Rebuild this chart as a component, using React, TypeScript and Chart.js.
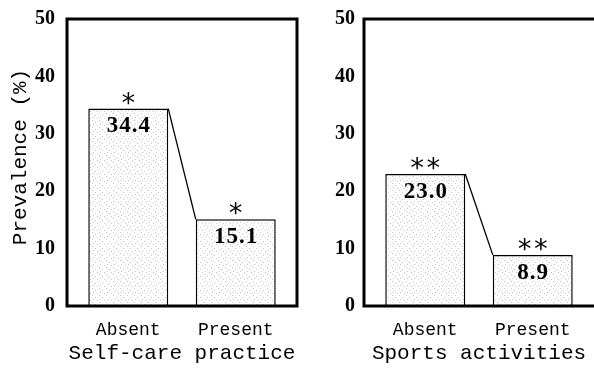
import { useEffect, useRef } from "react";
import { Chart, registerables } from "chart.js";

Chart.register(...registerables);

const categories = ["Absent", "Present"];
const categoryPositions = [0, 1];
const selfCareValues = [34.4, 15.1];
const sportsValues = [23.0, 8.9];
const selfCareMarks = ["*", "*"];
const sportsMarks = ["**", "**"];
const selfCareTitle = "Self-care practice";
const sportsTitle = "Sports activities";
const yAxisTitle = "Prevalence (%)";
const yTickValues = [0, 10, 20, 30, 40, 50];

function makePattern(ctx: CanvasRenderingContext2D) {
  const c = document.createElement("canvas");
  c.width = 7;
  c.height = 7;
  const g = c.getContext("2d")!;
  g.fillStyle = "#ffffff";
  g.fillRect(0, 0, 7, 7);
  g.fillStyle = "rgba(110,110,110,0.4)";
  const dots = [
    [1, 1],
    [4, 3],
    [2, 5],
    [6, 6],
  ];
  dots.forEach(([x, y]) => g.fillRect(x, y, 1, 1));
  return ctx.createPattern(c, "repeat")!;
}

function annotatePlugin(marks: string[]) {
  return {
    id: "annotate",
    afterDatasetsDraw(chart: any) {
      const ctx = chart.ctx as any;
      const els = chart.getDatasetMeta(0).data;
      const data = chart.data.datasets[0].data;
      ctx.save();
      ctx.strokeStyle = "#000";
      ctx.lineWidth = 1.3;
      for (let i = 0; i < els.length - 1; i++) {
        const a = els[i].getProps(["x", "y", "width"], true);
        const b = els[i + 1].getProps(["x", "y", "width"], true);
        ctx.beginPath();
        ctx.moveTo(a.x + a.width / 2, a.y);
        ctx.lineTo(b.x - b.width / 2, b.y);
        ctx.stroke();
      }
      ctx.fillStyle = "#000";
      ctx.textAlign = "center";
      ctx.textBaseline = "middle";
      els.forEach((el: any, i: number) => {
        const { x, y } = el.getProps(["x", "y"], true);
        ctx.font = 'bold 23px "Liberation Serif"';
        ctx.letterSpacing = "1px";
        ctx.fillText(Number(data[i].y).toFixed(1), x + 0.5, y + 18);
        ctx.letterSpacing = "0px";
        ctx.font = '27px "DejaVu Sans Mono"';
        ctx.fillText(marks[i], x, y - 4);
      });
      ctx.restore();
    },
  };
}

function framePlugin(drawRight: boolean, yTitle: string | null) {
  return {
    id: "frame",
    afterDraw(chart: any) {
      const { ctx, chartArea } = chart;
      const { left, right, top, bottom } = chartArea;
      ctx.save();
      ctx.strokeStyle = "#000";
      ctx.lineWidth = 3;
      ctx.beginPath();
      ctx.moveTo(left, top - 1.5);
      ctx.lineTo(left, bottom + 1.5);
      ctx.moveTo(left - 1.5, bottom);
      ctx.lineTo(right + 1.5, bottom);
      ctx.moveTo(left - 1.5, top);
      ctx.lineTo(right + 1.5, top);
      if (drawRight) {
        ctx.moveTo(right, top - 1.5);
        ctx.lineTo(right, bottom + 1.5);
      }
      ctx.stroke();
      if (yTitle) {
        ctx.translate(20, 157);
        ctx.rotate(-Math.PI / 2);
        ctx.fillStyle = "#000";
        ctx.font = '21px "Liberation Mono"';
        ctx.textAlign = "center";
        ctx.textBaseline = "middle";
        ctx.fillText(yTitle, 0, 0);
      }
      ctx.restore();
    },
  };
}

function makeConfig(
  ctx: CanvasRenderingContext2D,
  values: number[],
  marks: string[],
  xTitle: string,
  showYTitle: boolean,
  yWidth: number,
  tickPad: number,
  rightPad: number,
  drawRight: boolean
): any {
  return {
    type: "bar",
    data: {
      datasets: [
        {
          data: values.map((v, i) => ({ x: categoryPositions[i], y: v })),
          backgroundColor: makePattern(ctx),
          borderColor: "#000",
          borderWidth: 1.5,
          borderSkipped: "bottom",
          barPercentage: 0.744,
          categoryPercentage: 1,
        },
      ],
    },
    options: {
      responsive: false,
      animation: false,
      layout: { padding: { top: 19, right: rightPad, left: 0, bottom: 0 } },
      plugins: { legend: { display: false }, tooltip: { enabled: false } },
      scales: {
        x: {
          type: "linear",
          min: -0.57,
          max: 1.57,
          offset: false,
          grid: { display: false, drawTicks: false, offset: false },
          border: { display: false },
          afterBuildTicks: (scale: any) => {
            scale.ticks = categoryPositions.map((v) => ({ value: v }));
          },
          afterFit: (scale: any) => {
            scale.height = 64;
          },
          ticks: {
            autoSkip: false,
            maxRotation: 0,
            padding: 13,
            color: "#000",
            font: { family: "Liberation Mono", size: 18 },
            callback: (v: number) => {
              const idx = categoryPositions.indexOf(v);
              return idx >= 0 ? categories[idx] : "";
            },
          },
          title: {
            display: true,
            text: xTitle,
            color: "#000",
            font: { family: "Liberation Mono", size: 21 },
            padding: { top: 0, bottom: 4 },
          },
        },
        y: {
          min: 0,
          max: 50,
          grid: { display: false, drawTicks: false },
          border: { display: false },
          afterBuildTicks: (scale: any) => {
            scale.ticks = yTickValues.map((v) => ({ value: v }));
          },
          afterFit: (scale: any) => {
            scale.width = yWidth;
            scale.paddingTop = 10;
            scale.paddingBottom = 10;
          },
          ticks: {
            padding: tickPad,
            color: "#000",
            font: { family: "Liberation Serif", size: 20, weight: "bold" },
          },
          title: { display: false },
        },
      },
    },
    plugins: [annotatePlugin(marks), framePlugin(drawRight, showYTitle ? yAxisTitle : null)],
  };
}

export default function App() {
  const leftRef = useRef<HTMLCanvasElement>(null);
  const rightRef = useRef<HTMLCanvasElement>(null);

  useEffect(() => {
    const lctx = leftRef.current!.getContext("2d")!;
    const rctx = rightRef.current!.getContext("2d")!;
    const left = new Chart(
      lctx,
      makeConfig(lctx, selfCareValues, selfCareMarks, selfCareTitle, true, 67, 12, 3, true)
    );
    const right = new Chart(
      rctx,
      makeConfig(rctx, sportsValues, sportsMarks, sportsTitle, false, 64, 9, 0, false)
    );
    return () => {
      left.destroy();
      right.destroy();
    };
  }, []);

  return (
    <div
      style={{
        position: "absolute",
        left: 0,
        top: 0,
        width: 594,
        height: 370,
        background: "#fff",
      }}
    >
      <canvas
        ref={leftRef}
        width={300}
        height={370}
        style={{ position: "absolute", left: 0, top: 0, width: 300, height: 370 }}
      />
      <canvas
        ref={rightRef}
        width={294}
        height={370}
        style={{ position: "absolute", left: 300, top: 0, width: 294, height: 370 }}
      />
    </div>
  );
}
